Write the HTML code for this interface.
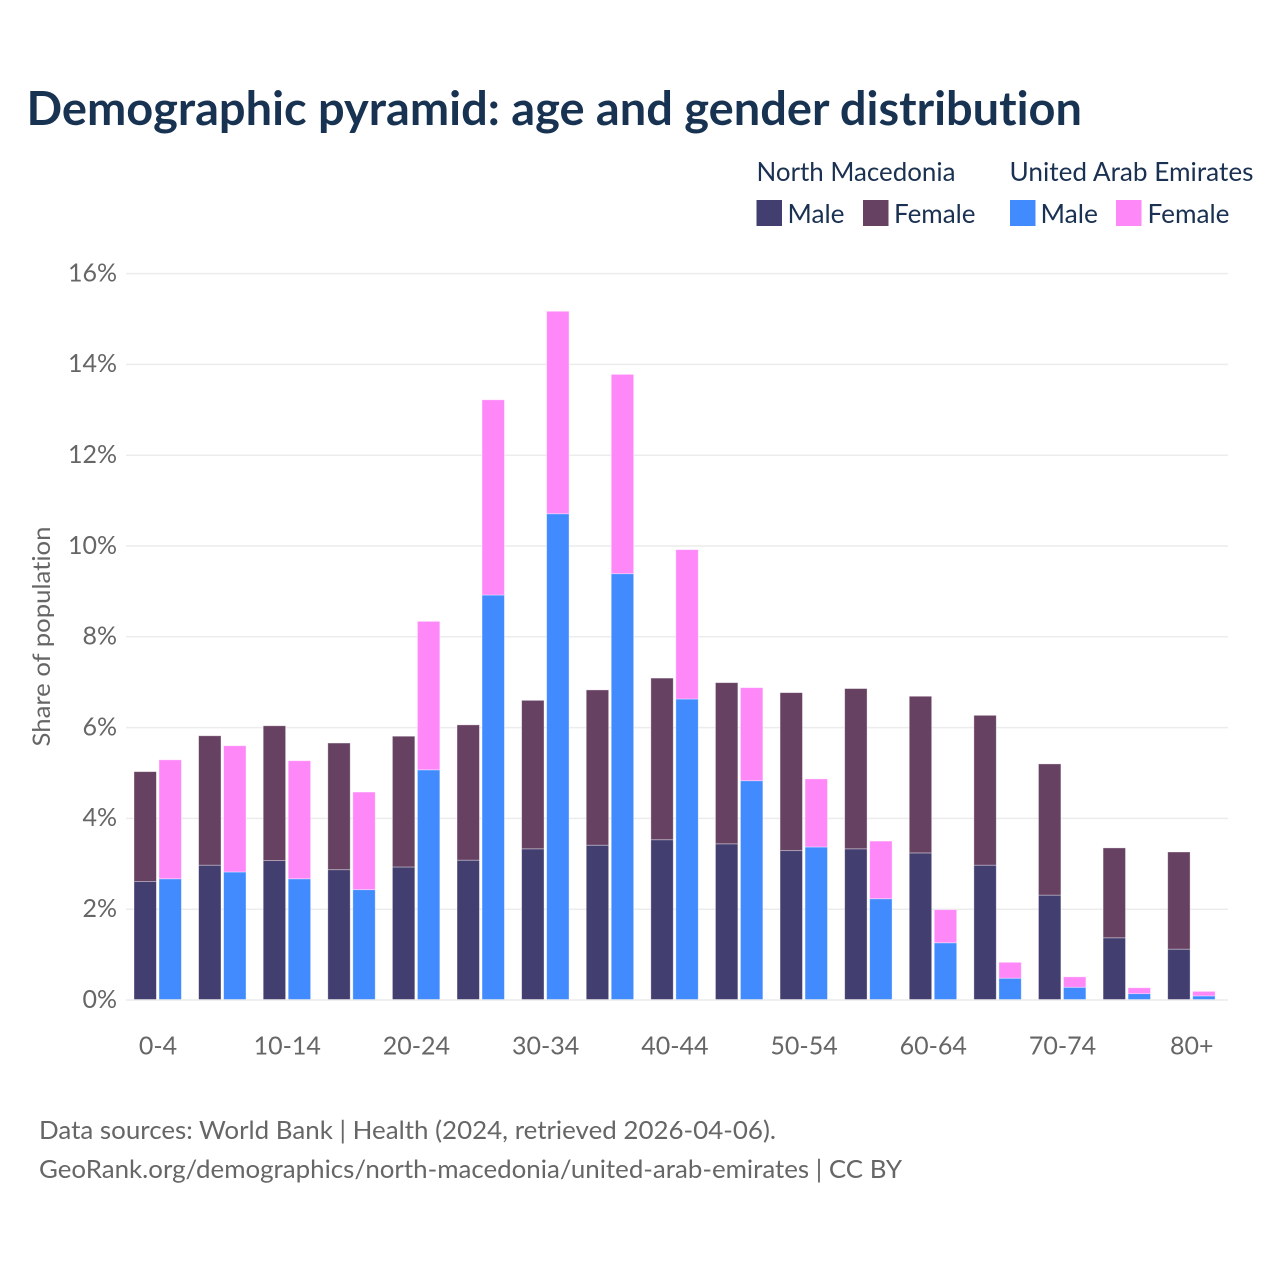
<!DOCTYPE html>
<html lang="en">
<head>
<meta charset="utf-8">
<title>Demographic pyramid: age and gender distribution</title>
<style>
  html, body { margin: 0; padding: 0; background: #fff; }
  svg { display: block; }
  text { font-family: "Lato", "Carlito", "Liberation Sans", sans-serif; font-variant-ligatures: none; }
  .navy { fill: #1a3152; font-size: 26.6px; }
  .grey { fill: #666; font-size: 25.6px; }
</style>
</head>
<body>
<svg id="chart" xmlns="http://www.w3.org/2000/svg" width="1280" height="1280" viewBox="0 0 1280 1280">
  <rect width="1280" height="1280" fill="#fff"/>
  <text x="26.5" y="125" font-size="47" font-weight="700" fill="#183252" textLength="1055.5" lengthAdjust="spacingAndGlyphs">Demographic pyramid: age and gender distribution</text>

  <g>
    <text class="navy" x="756.5" y="181" textLength="199" lengthAdjust="spacingAndGlyphs">North Macedonia</text>
    <text class="navy" x="1009.5" y="181" textLength="244" lengthAdjust="spacingAndGlyphs">United Arab Emirates</text>
    <rect x="756.5" y="200" width="25.5" height="26" fill="#433e70"/>
    <text class="navy" x="787.5" y="223" textLength="57" lengthAdjust="spacingAndGlyphs">Male</text>
    <rect x="863" y="200" width="25.5" height="26" fill="#674162"/>
    <text class="navy" x="894" y="223" textLength="81.5" lengthAdjust="spacingAndGlyphs">Female</text>
    <rect x="1010" y="200" width="25.5" height="26" fill="#418bff"/>
    <text class="navy" x="1040.5" y="223" textLength="57.5" lengthAdjust="spacingAndGlyphs">Male</text>
    <rect x="1116" y="200" width="25.5" height="26" fill="#ff88f9"/>
    <text class="navy" x="1147.5" y="223" textLength="82" lengthAdjust="spacingAndGlyphs">Female</text>
  </g>

  <text class="grey" style="font-size:24.6px" transform="translate(50,636.5) rotate(-90)" text-anchor="middle" textLength="220" lengthAdjust="spacingAndGlyphs">Share of population</text>

  <g id="grid"></g>
  <g id="ytick-labels"></g>
  <g id="bars"></g>
  <g id="baseline"></g>
  <g id="xtick-labels"></g>

  <text class="grey" x="39" y="1139" textLength="737" lengthAdjust="spacingAndGlyphs">Data sources: World Bank | Health (2024, retrieved 2026-04-06).</text>
  <text class="grey" x="39" y="1178" textLength="863" lengthAdjust="spacingAndGlyphs">GeoRank.org/demographics/north-macedonia/united-arab-emirates | CC BY</text>
</svg>
<script>
const ageGroups = ["0-4","5-9","10-14","15-19","20-24","25-29","30-34","35-39","40-44","45-49","50-54","55-59","60-64","65-69","70-74","75-79","80+"];
const visibleAgeLabels = ["0-4","10-14","20-24","30-34","40-44","50-54","60-64","70-74","80+"];
const yTicks = [0, 2, 4, 6, 8, 10, 12, 14, 16];
const nmMale = [2.61,2.97,3.07,2.87,2.93,3.08,3.33,3.41,3.53,3.44,3.29,3.33,3.24,2.97,2.31,1.37,1.12];
const nmFemale = [2.42,2.85,2.97,2.79,2.88,2.98,3.27,3.42,3.56,3.55,3.48,3.53,3.45,3.30,2.89,1.98,2.14];
const uaeMale = [2.67,2.82,2.67,2.43,5.07,8.92,10.71,9.39,6.63,4.83,3.37,2.23,1.26,0.48,0.28,0.14,0.09];
const uaeFemale = [2.62,2.78,2.60,2.15,3.27,4.30,4.46,4.39,3.29,2.05,1.50,1.27,0.73,0.35,0.23,0.13,0.10];

const NS = "http://www.w3.org/2000/svg";
const plotLeft = 125.7, plotRight = 1228, zeroY = 1000, pxPerUnit = 45.4, barW = 22.4;
const bandW = (1224 - plotLeft) / ageGroups.length;
const yScale = v => zeroY - v * pxPerUnit;
const xCenter = i => plotLeft + bandW * (i + 0.5);

function make(tag, attrs, parent) {
  const el = document.createElementNS(NS, tag);
  for (const k in attrs) el.setAttribute(k, attrs[k]);
  parent.appendChild(el);
  return el;
}

const gridG = document.getElementById("grid");
const yLabelG = document.getElementById("ytick-labels");
yTicks.forEach(t => {
  if (t !== 0) {
    const line = make("line", {x1: 126, x2: plotRight, y1: yScale(t), y2: yScale(t), stroke: "#ececec", "stroke-width": 1.5}, gridG);
    
    
  }
  const label = make("text", {x: 117, y: yScale(t) + 7.8, "text-anchor": "end", fill: "#666", "font-size": 25}, yLabelG);
  
  
  label.textContent = t + "%";
});

const barsG = document.getElementById("bars");
function addBar(i, offset, bottom, value, color, name) {
  const top = yScale(bottom + value);
  const rect = make("rect", {
    x: xCenter(i) + offset, y: top, width: barW, height: yScale(bottom) - top,
    fill: color, stroke: "rgba(255,255,255,0.45)", "stroke-width": 0.8
  }, barsG);
  
  
}
ageGroups.forEach((group, i) => {
  addBar(i, -24, 0, nmMale[i], "#433e70", "bar-nm-male");
  addBar(i, -24, nmMale[i], nmFemale[i], "#674162", "bar-nm-female");
  addBar(i, 1, 0, uaeMale[i], "#418bff", "bar-uae-male");
  addBar(i, 1, uaeMale[i], uaeFemale[i], "#ff88f9", "bar-uae-female");
});

const baseLine = make("line", {x1: 126, x2: plotRight, y1: zeroY, y2: zeroY, stroke: "#ececec", "stroke-width": 1.5}, document.getElementById("baseline"));



const xLabelG = document.getElementById("xtick-labels");
ageGroups.forEach((group, i) => {
  if (!visibleAgeLabels.includes(group)) return;
  const label = make("text", {x: xCenter(i), y: 1054.5, "text-anchor": "middle", fill: "#666", "font-size": 25}, xLabelG);
  
  
  label.textContent = group;
});
</script>
</body>
</html>
